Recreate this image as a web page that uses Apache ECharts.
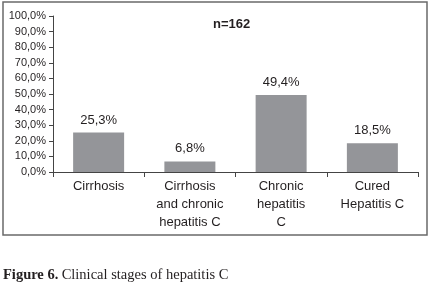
<!DOCTYPE html>
<html>
<head>
<meta charset="utf-8">
<script src="https://cdn.jsdelivr.net/npm/echarts@6/dist/echarts.min.js"></script>
<style>
  html, body { margin: 0; padding: 0; background: #fff; }
  #main { width: 430px; height: 285px; }
</style>
</head>
<body>
<div id="main"></div>
<script>
const categories = ["Cirrhosis", "Cirrhosis\nand chronic\nhepatitis C", "Chronic\nhepatitis\nC", "Cured\nHepatitis C"];
const values = [25.3, 6.8, 49.4, 18.5];
const sampleLabel = "n=162";
const caption = "Clinical stages of hepatitis C";

const fmt = v => v.toFixed(1).replace('.', ',') + '%';

const chart = echarts.init(document.getElementById("main"));

const option = {
  animation: false,
  backgroundColor: "#fff",
  textStyle: { fontFamily: "Liberation Sans, Arial, sans-serif" },
  title: {
    text: sampleLabel,
    left: 213,
    top: 18,
    padding: 0,
    textStyle: { fontSize: 13, fontWeight: "bold", color: "#231f20", fontFamily: "Liberation Sans" }
  },
  grid: { left: 53, right: 12, top: 16, bottom: 113 },
  xAxis: {
    type: "category",
    data: categories,
    axisLine: { lineStyle: { color: "#444", width: 1 } },
    axisTick: { show: true, length: 5, lineStyle: { color: "#444" } },
    axisLabel: {
      interval: 0,
      color: "#231f20",
      fontSize: 13,
      lineHeight: 18,
      margin: 5
    }
  },
  yAxis: {
    type: "value",
    min: 0,
    max: 100,
    interval: 10,
    splitLine: { show: false },
    axisLine: { show: true, lineStyle: { color: "#444", width: 1 } },
    axisTick: { show: true, length: 4, lineStyle: { color: "#444" } },
    axisLabel: {
      color: "#231f20",
      fontSize: 11,
      margin: 7,
      formatter: v => fmt(v)
    }
  },
  series: [
    {
      type: "bar",
      data: values,
      barWidth: 51,
      itemStyle: { color: "#949599" },
      label: {
        show: true,
        position: "top",
        distance: 6,
        color: "#231f20",
        fontSize: 13,
        formatter: p => fmt(p.value)
      }
    }
  ],
  graphic: [
    {
      type: "rect",
      shape: { x: 3, y: 2, width: 424, height: 233 },
      style: { fill: null, stroke: "#6a6a6a", lineWidth: 1.5 },
      silent: true
    },
    {
      type: "text",
      left: 3,
      top: 268,
      style: {
        text: "{b|Figure 6.} {n|" + caption + "}",
        rich: {
          b: { fontFamily: "Liberation Serif, Times New Roman, serif", fontWeight: "bold", fontSize: 14.5, fill: "#231f20" },
          n: { fontFamily: "Liberation Serif, Times New Roman, serif", fontSize: 14.5, fill: "#231f20" }
        }
      }
    }
  ]
};

chart.setOption(option);
</script>
</body>
</html>
